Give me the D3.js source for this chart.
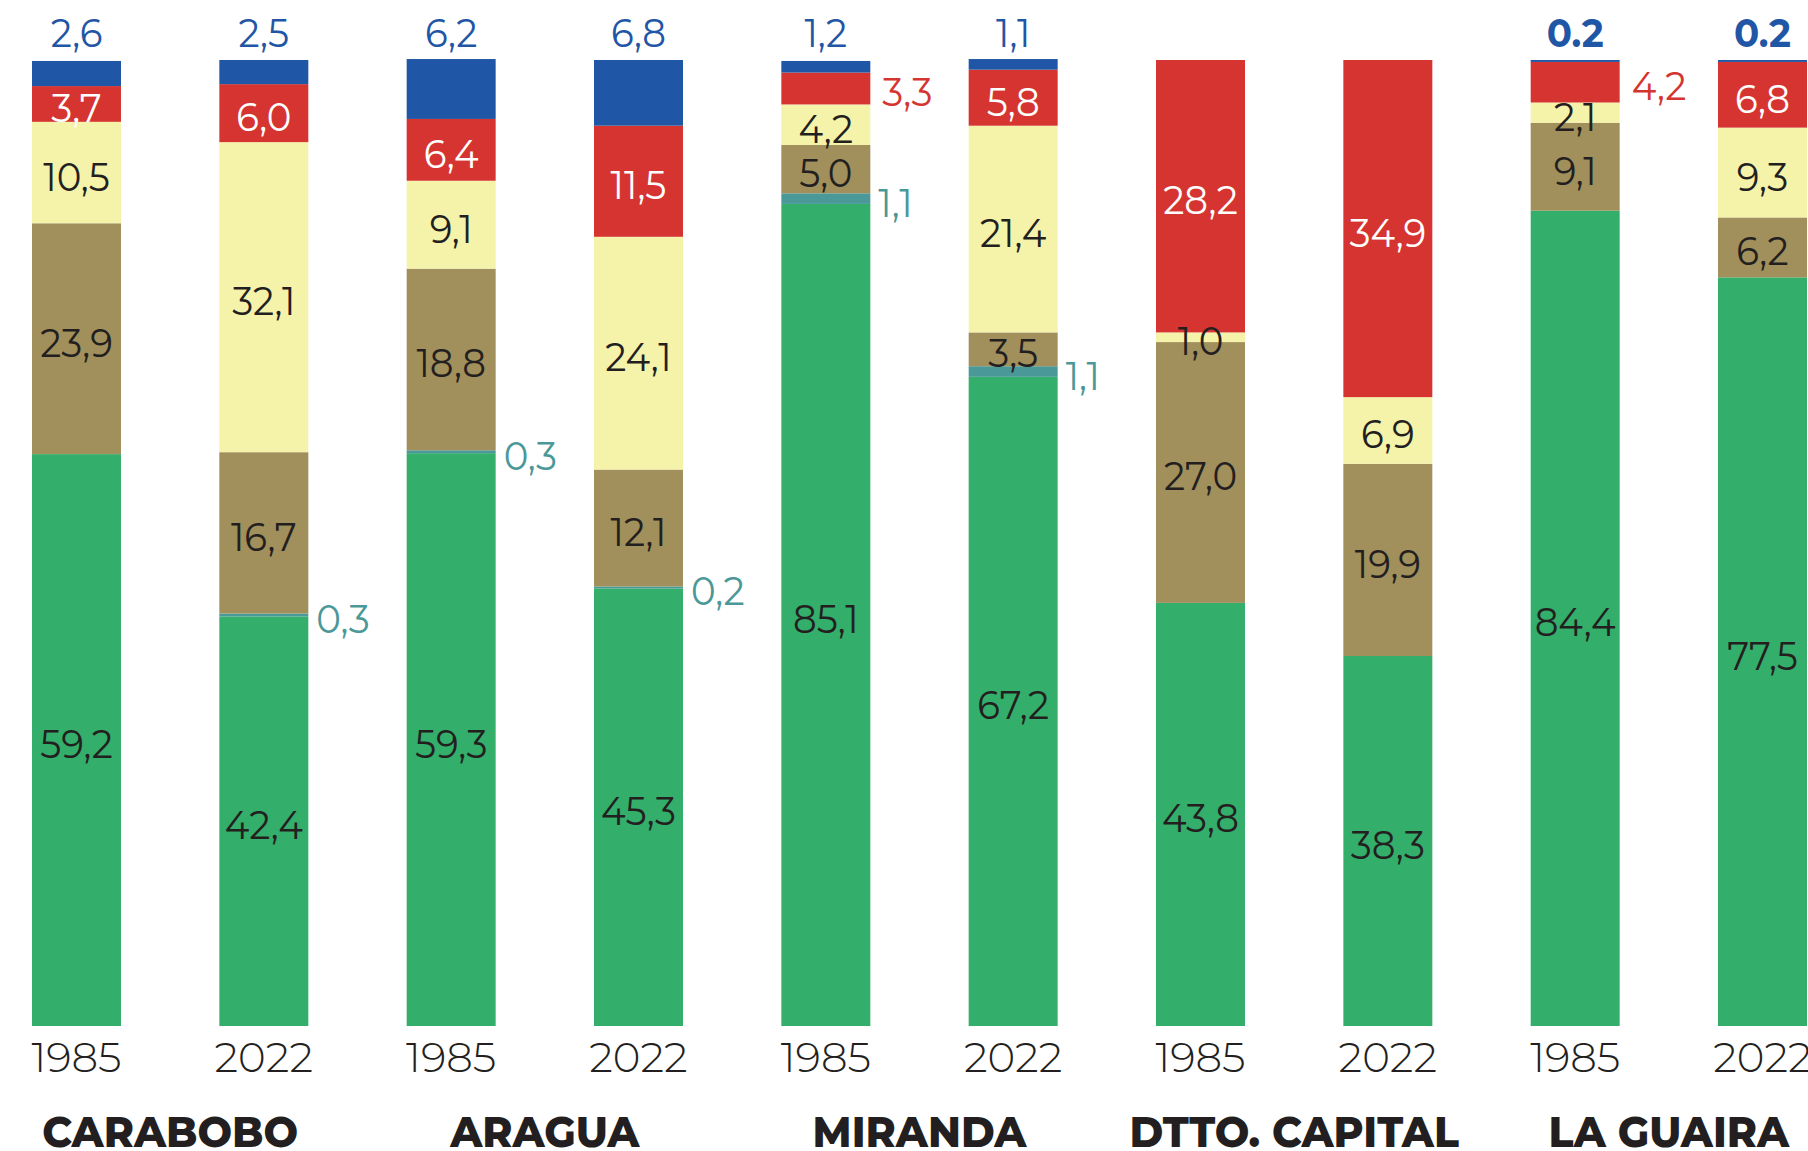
<!DOCTYPE html>
<html>
<head>
<meta charset="utf-8">
<script src="https://cdn.jsdelivr.net/npm/d3@7"></script>
<style>
  body { margin: 0; background: #fff; }
  svg { display: block; font-family: Montserrat, Inter, "Noto Sans", sans-serif; }
</style>
</head>
<body>
<svg id="chart" width="1808" height="1151"></svg>
<script>
// regions and years, one bar per region/year
const regions = ["CARABOBO", "ARAGUA", "MIRANDA", "DTTO. CAPITAL", "LA GUAIRA"];
const years = ["1985", "2022"];

// shares (%) per bar, bottom to top
const green  = [59.2, 42.4, 59.3, 45.3, 85.1, 67.2, 43.8, 38.3, 84.4, 77.5];
const teal   = [0, 0.3, 0.3, 0.2, 1.1, 1.1, 0, 0, 0, 0];
const brown  = [23.9, 16.7, 18.8, 12.1, 5.0, 3.5, 27.0, 19.9, 9.1, 6.2];
const yellow = [10.5, 32.1, 9.1, 24.1, 4.2, 21.4, 1.0, 6.9, 2.1, 9.3];
const red    = [3.7, 6.0, 6.4, 11.5, 3.3, 5.8, 28.2, 34.9, 4.2, 6.8];
const blue   = [2.6, 2.5, 6.2, 6.8, 1.2, 1.1, 0, 0, 0.2, 0.2];

// label text above the bars (as printed)
const blueLabels = ["2,6", "2,5", "6,2", "6,8", "1,2", "1,1", "", "", "0.2", "0.2"];
// red labels that sit outside the bar
const redOutside = [false, false, false, false, true, false, false, false, true, false];

const TEXT = "#231f20";
const colors = {
  green: "#33ae6b", teal: "#4b9898", brown: "#a18f5c",
  yellow: "#f5f2aa", red: "#d63430", blue: "#1f56a5"
};
const keys = ["green", "teal", "brown", "yellow", "red", "blue"];
const src = { green, teal, brown, yellow, red, blue };

var rows = green.map(function(_, i) {
  var r = { id: i, region: regions[Math.floor(i / 2)], year: years[i % 2] };
  keys.forEach(function(k) { r[k] = src[k][i]; });
  return r;
});

var svg = d3.select("#chart");

var x = d3.scaleBand()
  .domain(d3.range(rows.length))
  .range([32, 1807])
  .paddingInner(0.525)
  .paddingOuter(0);

var y = d3.scaleLinear().domain([0, 100]).range([1026, 60]);

var fmt = function(v) { return d3.format(".1f")(v).replace(".", ","); };

var stacked = d3.stack().keys(keys)(rows);

// bars
var layers = svg.append("g")
  .selectAll("g")
  .data(stacked)
  .enter().append("g")
    .attr("fill", function(d) { return colors[d.key]; });

layers.selectAll("rect")
  .data(function(d) { return d.filter(function(s) { return s[1] - s[0] > 0; }); })
  .enter().append("rect")
    .attr("x", function(d) { return x(d.data.id); })
    .attr("width", x.bandwidth())
    .attr("y", function(d) { return y(d[1]); })
    .attr("height", function(d) { return y(d[0]) - y(d[1]); });

// labels
var labels = svg.append("g").attr("font-size", 40);
var SX = 0.93; // reference type is a bit condensed

function addLabel(px, py, txt, color, anchor, weight) {
  labels.append("text")
    .attr("transform", "translate(" + px + "," + (py + 4) + ") scale(" + SX + ",1)")
    .attr("text-anchor", anchor)
    .attr("dominant-baseline", "central")
    .attr("fill", color)
    .attr("font-weight", weight || 400)
    .text(txt);
}

stacked.forEach(function(layer) {
  layer.forEach(function(s) {
    var v = s.data[layer.key];
    if (!(v > 0)) return;
    var i = s.data.id;
    var cx = x(i) + x.bandwidth() / 2;
    var cy = (y(s[0]) + y(s[1])) / 2;
    var right = x(i) + x.bandwidth() + 8;
    if (layer.key === "blue") {
      addLabel(cx, 29, blueLabels[i], colors.blue, "middle", v < 0.5 ? 700 : 400);
    } else if (layer.key === "teal") {
      addLabel(right, cy, fmt(v), colors.teal, "start");
    } else if (layer.key === "red") {
      if (redOutside[i]) addLabel(right + 4, cy, fmt(v), colors.red, "start");
      else addLabel(cx, cy, fmt(v), "#ffffff", "middle");
    } else {
      addLabel(cx, cy, fmt(v), TEXT, "middle");
    }
  });
});

// year axis
var axis = svg.append("g")
  .attr("transform", "translate(0,1026)")
  .call(d3.axisBottom(x).tickSize(0).tickFormat(function(i) { return rows[i].year; }));
axis.select(".domain").remove();
axis.selectAll("text")
  .attr("y", 31)
  .attr("dy", null)
  .attr("dominant-baseline", "central")
  .attr("font-family", "Montserrat, Inter, 'Noto Sans', sans-serif")
  .attr("font-size", 42)
  .attr("font-weight", 300)
  .attr("fill", TEXT);

// region names under each pair
svg.append("g")
  .selectAll("text")
  .data(regions)
  .enter().append("text")
    .attr("transform", function(d, k) {
      var cx = (x(2 * k) + x(2 * k + 1) + x.bandwidth()) / 2;
      return "translate(" + cx + ",1147) scale(" + SX + ",1)";
    })
    .attr("text-anchor", "middle")
    .attr("font-size", 44)
    .attr("font-weight", 800)
    .attr("fill", TEXT)
    .text(function(d) { return d; });
</script>
</body>
</html>
